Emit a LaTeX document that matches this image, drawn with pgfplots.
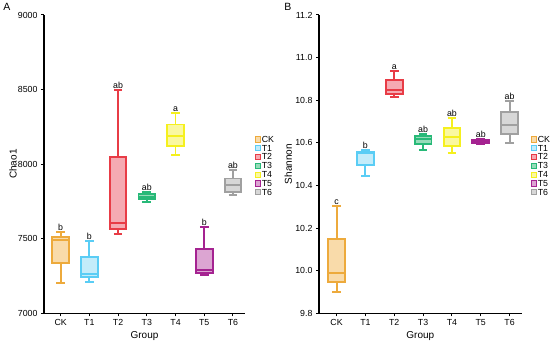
\documentclass[border=0pt]{standalone}
\usepackage{fontspec}
\setmainfont{Liberation Sans}
\usepackage{pgfplots}
\pgfplotsset{compat=1.18}
\definecolor{ckc}{RGB}{237,170,60}\definecolor{ckf}{RGB}{249,219,170}
\definecolor{t1c}{RGB}{90,205,245}\definecolor{t1f}{RGB}{195,236,250}
\definecolor{t2c}{RGB}{232,60,70}\definecolor{t2f}{RGB}{245,170,178}
\definecolor{t3c}{RGB}{40,185,120}\definecolor{t3f}{RGB}{150,220,185}
\definecolor{t4c}{RGB}{245,240,30}\definecolor{t4f}{RGB}{250,248,160}
\definecolor{t5c}{RGB}{165,35,145}\definecolor{t5f}{RGB}{220,165,210}
\definecolor{t6c}{RGB}{160,160,160}\definecolor{t6f}{RGB}{215,215,215}
\pgfplotsset{
  panel/.style={
    scale only axis, height=298.3pt,
    axis x line*=bottom, axis y line*=left,
    axis line style={line width=1.3pt, black},
    tick align=outside, major tick length=3pt,
    tick style={line width=1pt, black},
    xtick={0,...,6}, xticklabels={CK,T1,T2,T3,T4,T5,T6},
    ticklabel style={font=\fontsize{8.8}{9}\selectfont},
    /pgf/number format/assume math mode=true,
    label style={font=\fontsize{9.2}{10}\selectfont},
    xlabel={Group},
    every axis x label/.style={at={(axis description cs:0.5,-0.076)}, anchor=center},
    legend style={draw=none, fill=none, font=\fontsize{8.8}{9}\selectfont,
      nodes={inner sep=0.6pt, text height=6.3pt, text depth=0.5pt}, row sep=0.8pt,
      cells={anchor=west}, legend cell align=left},
    unbounded coords=jump, clip=false,
  },
  bl/.style={line width=1.9pt, solid, mark=none, forget plot, line join=miter},
  ckl/.style={legend image code/.code={\draw[draw=ckc,fill=ckf,line width=0.8pt] (0pt,-2.6pt) rectangle (5.2pt,2.6pt);}},
  t1l/.style={legend image code/.code={\draw[draw=t1c,fill=t1f,line width=0.8pt] (0pt,-2.6pt) rectangle (5.2pt,2.6pt);}},
  t2l/.style={legend image code/.code={\draw[draw=t2c,fill=t2f,line width=0.8pt] (0pt,-2.6pt) rectangle (5.2pt,2.6pt);}},
  t3l/.style={legend image code/.code={\draw[draw=t3c,fill=t3f,line width=0.8pt] (0pt,-2.6pt) rectangle (5.2pt,2.6pt);}},
  t4l/.style={legend image code/.code={\draw[draw=t4c,fill=t4f,line width=0.8pt] (0pt,-2.6pt) rectangle (5.2pt,2.6pt);}},
  t5l/.style={legend image code/.code={\draw[draw=t5c,fill=t5f,line width=0.8pt] (0pt,-2.6pt) rectangle (5.2pt,2.6pt);}},
  t6l/.style={legend image code/.code={\draw[draw=t6c,fill=t6f,line width=0.8pt] (0pt,-2.6pt) rectangle (5.2pt,2.6pt);}},
}
\newcommand{\letter}[3]{\node[font=\fontsize{8.8}{9}\selectfont, anchor=south, inner sep=1.2pt] at (axis cs:#1,#2) {#3};}
\newcommand{\mylegend}{%
\addlegendimage{ckl}\addlegendentry{CK}
\addlegendimage{t1l}\addlegendentry{T1}
\addlegendimage{t2l}\addlegendentry{T2}
\addlegendimage{t3l}\addlegendentry{T3}
\addlegendimage{t4l}\addlegendentry{T4}
\addlegendimage{t5l}\addlegendentry{T5}
\addlegendimage{t6l}\addlegendentry{T6}}
\begin{document}
\begin{tikzpicture}
\useasboundingbox (0,0) rectangle (550pt,343pt);
\node[font=\fontsize{10.5}{11}\selectfont] at (7pt,336pt) {A};
\node[font=\fontsize{10.5}{11}\selectfont] at (288pt,336pt) {B};
% Panel A
\begin{axis}[panel, at={(44pt,29.7pt)}, anchor=south west, width=201pt,
  xmin=-0.58, xmax=6.42, ymin=7000, ymax=9000, ytick={7000,7500,8000,8500,9000},
  /pgf/number format/set thousands separator={},
  ylabel={Chao1},
  every axis y label/.style={at={(axis description cs:-0.154,0.5)}, rotate=90, anchor=center},
  legend style={at={(axis description cs:1.035,0.604)}, anchor=north west}]
% CK
\addplot[bl, draw=ckc, fill=ckf] coordinates {(-0.29,7339) (0.29,7339) (0.29,7513) (-0.29,7513)} --cycle;
\addplot[bl, draw=ckc] coordinates {(0,7513) (0,7543) (nan,nan) (-0.15,7543) (0.15,7543) (nan,nan) (0,7339) (0,7201) (nan,nan) (-0.15,7201) (0.15,7201) (nan,nan) (-0.29,7491) (0.29,7491)};
% T1
\addplot[bl, draw=t1c, fill=t1f] coordinates {(0.71,7241) (1.29,7241) (1.29,7379) (0.71,7379)} --cycle;
\addplot[bl, draw=t1c] coordinates {(1,7379) (1,7486) (nan,nan) (0.85,7486) (1.15,7486) (nan,nan) (1,7241) (1,7208) (nan,nan) (0.85,7208) (1.15,7208) (nan,nan) (0.71,7263) (1.29,7263)};
% T2
\addplot[bl, draw=t2c, fill=t2f] coordinates {(1.71,7565) (2.29,7565) (2.29,8049) (1.71,8049)} --cycle;
\addplot[bl, draw=t2c] coordinates {(2,8049) (2,8495) (nan,nan) (1.85,8495) (2.15,8495) (nan,nan) (2,7565) (2,7531) (nan,nan) (1.85,7531) (2.15,7531) (nan,nan) (1.71,7607) (2.29,7607)};
% T3
\addplot[bl, draw=t3c, fill=t3f] coordinates {(2.71,7764) (3.29,7764) (3.29,7799) (2.71,7799)} --cycle;
\addplot[bl, draw=t3c] coordinates {(3,7799) (3,7815) (nan,nan) (2.85,7815) (3.15,7815) (nan,nan) (3,7764) (3,7744) (nan,nan) (2.85,7744) (3.15,7744) (nan,nan) (2.71,7781) (3.29,7781)};
% T4
\addplot[bl, draw=t4c, fill=t4f] coordinates {(3.71,8123) (4.29,8123) (4.29,8266) (3.71,8266)} --cycle;
\addplot[bl, draw=t4c] coordinates {(4,8266) (4,8340) (nan,nan) (3.85,8340) (4.15,8340) (nan,nan) (4,8123) (4,8061) (nan,nan) (3.85,8061) (4.15,8061) (nan,nan) (3.71,8190) (4.29,8190)};
% T5
\addplot[bl, draw=t5c, fill=t5f] coordinates {(4.71,7268) (5.29,7268) (5.29,7431) (4.71,7431)} --cycle;
\addplot[bl, draw=t5c] coordinates {(5,7431) (5,7576) (nan,nan) (4.85,7576) (5.15,7576) (nan,nan) (5,7268) (5,7257) (nan,nan) (4.85,7257) (5.15,7257) (nan,nan) (4.71,7290) (5.29,7290)};
% T6
\addplot[bl, draw=t6c, fill=t6f] coordinates {(5.71,7815) (6.29,7815) (6.29,7904) (5.71,7904)} --cycle;
\addplot[bl, draw=t6c] coordinates {(6,7904) (6,7960) (nan,nan) (5.85,7960) (6.15,7960) (nan,nan) (6,7815) (6,7793) (nan,nan) (5.85,7793) (6.15,7793) (nan,nan) (5.71,7860) (6.29,7860)};
\letter{0}{7543}{b}\letter{1}{7486}{b}\letter{2}{8495}{ab}\letter{3}{7815}{ab}
\letter{4}{8340}{a}\letter{5}{7576}{b}\letter{6}{7960}{ab}
\mylegend
\end{axis}
% Panel B
\begin{axis}[panel, at={(319pt,29.7pt)}, anchor=south west, width=202.7pt,
  xmin=-0.61, xmax=6.42, ymin=9.8, ymax=11.2, ytick={9.8,10.0,10.2,10.4,10.6,10.8,11.0,11.2},
  yticklabel style={/pgf/number format/fixed, /pgf/number format/fixed zerofill, /pgf/number format/precision=1},
  ylabel={Shannon},
  every axis y label/.style={at={(axis description cs:-0.151,0.5)}, rotate=90, anchor=center},
  legend style={at={(axis description cs:1.031,0.604)}, anchor=north west}]
% CK
\addplot[bl, draw=ckc, fill=ckf] coordinates {(-0.29,9.946) (0.29,9.946) (0.29,10.147) (-0.29,10.147)} --cycle;
\addplot[bl, draw=ckc] coordinates {(0,10.147) (0,10.305) (nan,nan) (-0.15,10.305) (0.15,10.305) (nan,nan) (0,9.946) (0,9.901) (nan,nan) (-0.15,9.901) (0.15,9.901) (nan,nan) (-0.29,9.991) (0.29,9.991)};
% T1
\addplot[bl, draw=t1c, fill=t1f] coordinates {(0.71,10.498) (1.29,10.498) (1.29,10.558) (0.71,10.558)} --cycle;
\addplot[bl, draw=t1c] coordinates {(1,10.558) (1,10.567) (nan,nan) (0.85,10.567) (1.15,10.567) (nan,nan) (1,10.498) (1,10.445) (nan,nan) (0.85,10.445) (1.15,10.445) (nan,nan) (0.71,10.551) (1.29,10.551)};
% T2
\addplot[bl, draw=t2c, fill=t2f] coordinates {(1.71,10.830) (2.29,10.830) (2.29,10.895) (1.71,10.895)} --cycle;
\addplot[bl, draw=t2c] coordinates {(2,10.895) (2,10.939) (nan,nan) (1.85,10.939) (2.15,10.939) (nan,nan) (2,10.830) (2,10.817) (nan,nan) (1.85,10.817) (2.15,10.817) (nan,nan) (1.71,10.848) (2.29,10.848)};
% T3
\addplot[bl, draw=t3c, fill=t3f] coordinates {(2.71,10.595) (3.29,10.595) (3.29,10.634) (2.71,10.634)} --cycle;
\addplot[bl, draw=t3c] coordinates {(3,10.634) (3,10.640) (nan,nan) (2.85,10.640) (3.15,10.640) (nan,nan) (3,10.595) (3,10.567) (nan,nan) (2.85,10.567) (3.15,10.567) (nan,nan) (2.71,10.617) (3.29,10.617)};
% T4
\addplot[bl, draw=t4c, fill=t4f] coordinates {(3.71,10.587) (4.29,10.587) (4.29,10.669) (3.71,10.669)} --cycle;
\addplot[bl, draw=t4c] coordinates {(4,10.669) (4,10.716) (nan,nan) (3.85,10.716) (4.15,10.716) (nan,nan) (4,10.587) (4,10.551) (nan,nan) (3.85,10.551) (4.15,10.551) (nan,nan) (3.71,10.626) (4.29,10.626)};
% T5
\addplot[bl, draw=t5c, fill=t5f] coordinates {(4.71,10.598) (5.29,10.598) (5.29,10.614) (4.71,10.614)} --cycle;
\addplot[bl, draw=t5c] coordinates {(5,10.614) (5,10.617) (nan,nan) (4.85,10.617) (5.15,10.617) (nan,nan) (5,10.598) (5,10.593) (nan,nan) (4.85,10.593) (5.15,10.593) (nan,nan) (4.71,10.606) (5.29,10.606)};
% T6
\addplot[bl, draw=t6c, fill=t6f] coordinates {(5.71,10.640) (6.29,10.640) (6.29,10.744) (5.71,10.744)} --cycle;
\addplot[bl, draw=t6c] coordinates {(6,10.744) (6,10.798) (nan,nan) (5.85,10.798) (6.15,10.798) (nan,nan) (6,10.640) (6,10.601) (nan,nan) (5.85,10.601) (6.15,10.601) (nan,nan) (5.71,10.684) (6.29,10.684)};
\letter{0}{10.305}{c}\letter{1}{10.567}{b}\letter{2}{10.939}{a}\letter{3}{10.640}{ab}
\letter{4}{10.716}{ab}\letter{5}{10.617}{ab}\letter{6}{10.798}{ab}
\mylegend
\end{axis}
\end{tikzpicture}
\end{document}
